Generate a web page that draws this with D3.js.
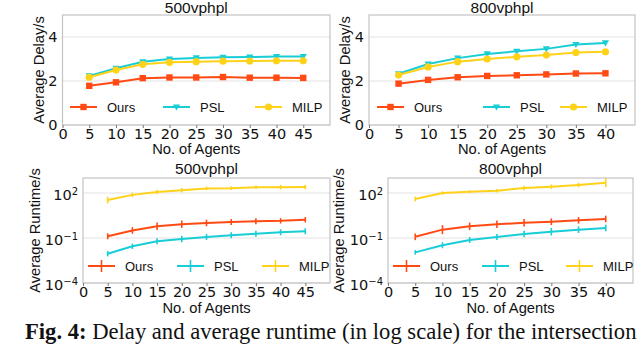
<!DOCTYPE html>
<html><head><meta charset="utf-8">
<script src="https://cdn.jsdelivr.net/npm/d3@7"></script>
<style>
html,body{margin:0;padding:0;background:#fff;}
svg{display:block;}
</style></head>
<body>
<svg id="c" width="640" height="344"></svg>
<script>
// ---------- data ----------
const agents500 = [5,10,15,20,25,30,35,40,45];
const agents800 = [5,10,15,20,25,30,35,40];
const xTicks500 = [0,5,10,15,20,25,30,35,40,45];
const xTicks800 = [0,5,10,15,20,25,30,35,40];
const delayTicks = [0,2,4];
const runtimeTicks = [1e-4,1e-1,1e2];
const runtimeTickExp = ["−4","−1","2"];
const seriesNames = ["Ours","PSL","MILP"];

const delayOurs500 = [1.78,1.94,2.13,2.16,2.16,2.18,2.15,2.15,2.14];
const delayPSL500  = [2.23,2.58,2.87,3.00,3.05,3.08,3.09,3.11,3.11];
const delayMILP500 = [2.17,2.50,2.76,2.85,2.88,2.90,2.91,2.92,2.92];

const delayOurs800 = [1.88,2.05,2.17,2.23,2.26,2.30,2.34,2.35];
const delayPSL800  = [2.33,2.77,3.04,3.23,3.35,3.46,3.66,3.73];
const delayMILP800 = [2.27,2.64,2.88,3.00,3.10,3.18,3.29,3.33];

const rtOurs500 = [0.13,0.32,0.60,0.82,1.00,1.17,1.30,1.40,1.66];
const rtPSL500  = [0.009,0.028,0.060,0.085,0.117,0.15,0.19,0.24,0.28];
const rtMILP500 = [34,75,117,150,200,210,240,245,248];

const rtOurs800 = [0.12,0.36,0.60,0.82,1.05,1.22,1.50,1.85];
const rtPSL800  = [0.011,0.033,0.074,0.117,0.185,0.26,0.36,0.47];
const rtMILP800 = [40,100,122,142,215,263,342,485];

// error bar half-widths (in decades, log10)
const errOurs500 = [0.20,0.22,0.25,0.25,0.22,0.20,0.20,0.18,0.18];
const errPSL500  = [0.18,0.18,0.20,0.22,0.20,0.20,0.20,0.20,0.20];
const errMILP500 = [0.22,0.15,0.15,0.15,0.12,0.12,0.12,0.15,0.15];
const errOurs800 = [0.22,0.30,0.25,0.25,0.25,0.22,0.22,0.22];
const errPSL800  = [0.15,0.20,0.20,0.20,0.22,0.25,0.22,0.22];
const errMILP800 = [0.15,0.12,0.10,0.12,0.15,0.15,0.15,0.30];

// ---------- style ----------
const colors = {Ours:"#ff4a14", PSL:"#19cdd6", MILP:"#ffd21a"};
const LABEL_FONT = "'Liberation Sans', Arial, sans-serif";
const TICK_FONT = "'DejaVu Sans', sans-serif";
const svg = d3.select("#c");

function panel(cfg){
  const g = svg.append("g");
  const [x0,x1] = cfg.xr, [y0,y1] = cfg.yr; // y0 bottom, y1 top
  const x = d3.scaleLinear().domain(cfg.xd).range([x0,x1]);
  const y = cfg.log ? d3.scaleLog().domain(cfg.yd).range([y0,y1])
                    : d3.scaleLinear().domain(cfg.yd).range([y0,y1]);
  // grid
  g.selectAll(".grid").data(cfg.yTicks).enter().append("line")
    .attr("x1",x0).attr("x2",x1).attr("y1",d=>y(d)).attr("y2",d=>y(d))
    .attr("stroke","#e3e3e3").attr("stroke-width",1);
  // frame
  g.append("rect").attr("x",x0).attr("y",y1).attr("width",x1-x0).attr("height",y0-y1)
    .attr("fill","none").attr("stroke","#c4c4c4").attr("stroke-width",1.2);
  // x axis ticks
  const xa = d3.axisBottom(x).tickValues(cfg.xTicks).tickSize(3).tickPadding(1).tickFormat(d3.format("d"));
  const xg = g.append("g").attr("transform",`translate(0,${y0})`).call(xa);
  xg.select(".domain").remove();
  xg.selectAll(".tick line").attr("stroke","#777");
  xg.selectAll(".tick text").attr("font-family",TICK_FONT).attr("font-size",14.5).attr("fill","#111")
    .attr("dy","0.71em");
  // y axis ticks
  const ya = d3.axisLeft(y).tickValues(cfg.yTicks).tickSize(0).tickPadding(5);
  if(!cfg.log) ya.tickFormat(d3.format("d"));
  else ya.tickFormat("");
  const yg = g.append("g").attr("transform",`translate(${x0},0)`).call(ya);
  yg.select(".domain").remove();
  yg.selectAll(".tick text").attr("font-family",TICK_FONT).attr("font-size",14.5).attr("fill","#111");
  if(cfg.log){
    yg.selectAll(".tick text").each(function(d,i){
      const t = d3.select(this);
      t.text(null);
      t.append("tspan").text("10");
      t.append("tspan").attr("dy","-0.55em").attr("font-size",10).text(runtimeTickExp[i]);
    }).attr("dy","0.45em");
  }
  // title
  g.append("text").attr("x",(x0+x1)/2).attr("y",cfg.titleY).attr("text-anchor","middle")
    .attr("font-family",LABEL_FONT).attr("font-size",15.5).attr("fill","#111").text(cfg.title);
  // x label
  g.append("text").attr("x",(x0+x1)/2).attr("y",cfg.xlabY).attr("text-anchor","middle")
    .attr("font-family",LABEL_FONT).attr("font-size",14.7).attr("fill","#111").text("No. of Agents");
  // y label
  g.append("text").attr("transform",`translate(${cfg.ylabX},${(y0+y1)/2}) rotate(-90)`)
    .attr("text-anchor","middle").attr("font-family",LABEL_FONT).attr("font-size",14.7)
    .attr("fill","#111").text(cfg.ylab);

  const line = d3.line().x(d=>x(d[0])).y(d=>y(d[1]));
  cfg.series.forEach(s=>{
    const pts = cfg.xs.map((v,i)=>[v,s.vals[i]]);
    const c = colors[s.name];
    g.append("path").datum(pts).attr("d",line).attr("fill","none")
      .attr("stroke",c).attr("stroke-width",2);
    if(s.err){
      g.selectAll(null).data(pts).enter().append("line")
        .attr("x1",d=>x(d[0])).attr("x2",d=>x(d[0]))
        .attr("y1",(d,i)=>y(d[1]*Math.pow(10,s.err[i])))
        .attr("y2",(d,i)=>y(d[1]/Math.pow(10,s.err[i])))
        .attr("stroke",c).attr("stroke-width",1.6);
    } else {
      drawMarkers(g, pts.map(d=>[x(d[0]),y(d[1])]), s.name);
    }
  });
  // legend
  const ly = y0 - cfg.legendUp;
  seriesNames.forEach((n,i)=>{
    const hx = x0 + cfg.legendX[i];
    const c = colors[n];
    g.append("line").attr("x1",hx).attr("x2",hx+27).attr("y1",ly).attr("y2",ly)
      .attr("stroke",c).attr("stroke-width",2);
    if(cfg.log){
      g.append("line").attr("x1",hx+13.5).attr("x2",hx+13.5).attr("y1",ly-6).attr("y2",ly+6)
        .attr("stroke",c).attr("stroke-width",1.6);
    } else {
      drawMarkers(g, [[hx+13.5,ly]], n);
    }
    g.append("text").attr("x",hx+37).attr("y",ly).attr("dy","0.36em")
      .attr("font-family",LABEL_FONT).attr("font-size",13).attr("fill","#111").text(n);
  });
}

function drawMarkers(g, pts, name){
  const c = colors[name];
  if(name==="Ours"){
    g.selectAll(null).data(pts).enter().append("rect")
      .attr("x",d=>d[0]-3.2).attr("y",d=>d[1]-3.2).attr("width",6.4).attr("height",6.4)
      .attr("fill",c);
  } else if(name==="PSL"){
    g.selectAll(null).data(pts).enter().append("path")
      .attr("d",d=>`M${d[0]-3.6},${d[1]-2.6}L${d[0]+3.6},${d[1]-2.6}L${d[0]},${d[1]+3.6}Z`)
      .attr("fill",c);
  } else {
    g.selectAll(null).data(pts).enter().append("circle")
      .attr("cx",d=>d[0]).attr("cy",d=>d[1]).attr("r",3.6).attr("fill",c);
  }
}

panel({xr:[62.5,330], yr:[125,15], xd:[0,50], yd:[0,5], log:false,
  xTicks:xTicks500, yTicks:delayTicks, xs:agents500, title:"500vphpl", titleY:12.5,
  xlabY:154, ylabX:43.5, ylab:"Average Delay/s", legendUp:18, legendX:[7.5,100.5,192.5],
  series:[{name:"Ours",vals:delayOurs500},{name:"PSL",vals:delayPSL500},{name:"MILP",vals:delayMILP500}]});
panel({xr:[369,635], yr:[125,15], xd:[0,45], yd:[0,5], log:false,
  xTicks:xTicks800, yTicks:delayTicks, xs:agents800, title:"800vphpl", titleY:12.5,
  xlabY:154, ylabX:350, ylab:"Average Delay/s", legendUp:18, legendX:[8,114,191],
  series:[{name:"Ours",vals:delayOurs800},{name:"PSL",vals:delayPSL800},{name:"MILP",vals:delayMILP800}]});
panel({xr:[83,330], yr:[283,178], xd:[0,50], yd:[1e-4,1e3], log:true,
  xTicks:xTicks500, yTicks:runtimeTicks, xs:agents500, title:"500vphpl", titleY:174,
  xlabY:313, ylabX:39.5, ylab:"Average Runtime/s", legendUp:17, legendX:[5,94,179],
  series:[{name:"Ours",vals:rtOurs500,err:errOurs500},{name:"PSL",vals:rtPSL500,err:errPSL500},{name:"MILP",vals:rtMILP500,err:errMILP500}]});
panel({xr:[388,633], yr:[283,178], xd:[0,45], yd:[1e-4,1e3], log:true,
  xTicks:xTicks800, yTicks:runtimeTicks, xs:agents800, title:"800vphpl", titleY:174,
  xlabY:313, ylabX:344, ylab:"Average Runtime/s", legendUp:17, legendX:[5,94,178],
  series:[{name:"Ours",vals:rtOurs800,err:errOurs800},{name:"PSL",vals:rtPSL800,err:errPSL800},{name:"MILP",vals:rtMILP800,err:errMILP800}]});

// caption
const cap = svg.append("text").attr("x",25).attr("y",339)
  .attr("font-family","'Liberation Serif','Times New Roman',serif").attr("font-size",17).attr("fill","#111");
cap.append("tspan").attr("font-weight","bold").text("Fig. 4:");
cap.append("tspan").text(" Delay and average runtime (in log scale) for the intersection");
const w = cap.node().getComputedTextLength();
cap.attr("font-size", 17*612/w);
</script>
</body></html>
